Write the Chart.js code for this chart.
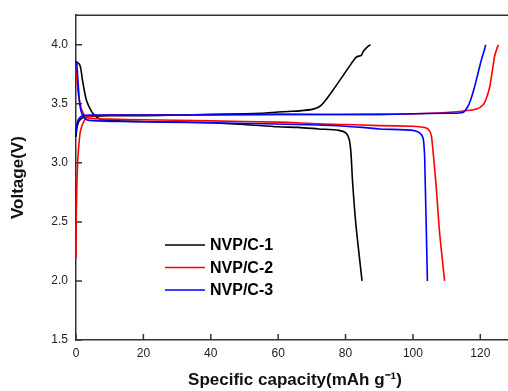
<!DOCTYPE html>
<html>
<head>
<meta charset="utf-8">
<script src="https://cdn.jsdelivr.net/npm/chart.js@4"></script>
<style>
  html, body { margin: 0; padding: 0; background: #fff; overflow: hidden; }
  #wrap { width: 508px; height: 391px; overflow: hidden; }
  canvas { display: block; }
</style>
</head>
<body>
<div id="wrap"><canvas id="chart" width="520" height="391"></canvas></div>
<script>
// series names + colours
const names = ['NVP/C-1', 'NVP/C-2', 'NVP/C-3'];
const colors = ['#000000', '#ff0000', '#0000ff'];

// NVP/C-1 (black)
const cap1Charge = [0, 0.3, 0.8, 1.8, 3, 5, 10, 20, 30, 40, 50, 55, 60, 63, 66.4, 70.4, 72.3, 73.8, 76.3, 79.3, 81.7, 83.2, 84.7, 85.2, 86.4, 87.4];
const volt1Charge = [3.22, 3.30, 3.35, 3.38, 3.39, 3.395, 3.40, 3.40, 3.405, 3.41, 3.415, 3.42, 3.43, 3.435, 3.44, 3.455, 3.477, 3.52, 3.617, 3.74, 3.84, 3.896, 3.91, 3.94, 3.98, 4.0];
const cap1Dis = [0, 1.0, 1.4, 2.1, 3.1, 4.6, 6.0, 8.0, 12, 20, 30, 40, 50, 60, 66, 72, 78, 80.1, 81.1, 81.6, 82.1, 83.1, 84.9];
const volt1Dis = [3.86, 3.835, 3.80, 3.67, 3.53, 3.435, 3.39, 3.365, 3.355, 3.35, 3.345, 3.34, 3.325, 3.305, 3.30, 3.287, 3.275, 3.253, 3.197, 3.086, 2.834, 2.47, 2.0];

// NVP/C-2 (red)
const cap2Charge = [0, 0.1, 0.4, 0.7, 1.2, 1.6, 2.5, 3.5, 5, 10, 30, 60, 90, 105, 113.9, 118.8, 120.8, 121.8, 122.8, 123.6, 124.2, 124.9, 125.4];
const volt2Charge = [2.19, 2.6, 2.95, 3.1, 3.25, 3.30, 3.36, 3.39, 3.40, 3.405, 3.405, 3.41, 3.41, 3.42, 3.435, 3.455, 3.49, 3.547, 3.644, 3.784, 3.896, 3.966, 4.0];
const cap2Dis = [0, 0.3, 0.7, 1.7, 3, 5, 10, 20, 40, 60, 72, 80, 90, 100, 102, 104, 105, 105.5, 105.9, 106.9, 107.9, 109.4];
const volt2Dis = [3.80, 3.70, 3.58, 3.45, 3.39, 3.375, 3.37, 3.365, 3.355, 3.345, 3.33, 3.325, 3.315, 3.31, 3.305, 3.295, 3.267, 3.225, 3.12, 2.805, 2.414, 2.0];

// NVP/C-3 (blue)
const cap3Charge = [0, 0.2, 0.6, 1.2, 2.2, 4, 10, 30, 60, 90, 100, 110, 114.8, 116.3, 117.3, 118.3, 119.3, 120.3, 121.3, 121.6];
const volt3Charge = [3.25, 3.32, 3.36, 3.385, 3.40, 3.405, 3.405, 3.405, 3.41, 3.41, 3.415, 3.42, 3.426, 3.477, 3.547, 3.644, 3.757, 3.868, 3.966, 4.0];
const cap3Dis = [0, 0.2, 0.7, 1.0, 1.4, 2.2, 3.2, 5, 13, 40, 72, 85, 90, 100, 102, 103, 103.3, 103.5, 104.3];
const volt3Dis = [3.855, 3.85, 3.645, 3.53, 3.45, 3.39, 3.365, 3.357, 3.35, 3.34, 3.32, 3.30, 3.287, 3.275, 3.253, 3.21, 3.14, 3.03, 2.0];

// axis ticks
const xTicks = { min: 0, max: 130, step: 20 };
const yTicks = { min: 1.5, max: 4.25, step: 0.5 };

const FONT = "'Liberation Sans', Arial, sans-serif";
Chart.defaults.font.family = FONT;

const pts = (xs, ys) => xs.map((x, i) => ({ x, y: ys[i] }));

const curves = [
    [0, cap1Charge, volt1Charge], [0, cap1Dis, volt1Dis],
    [1, cap2Charge, volt2Charge], [1, cap2Dis, volt2Dis],
    [2, cap3Charge, volt3Charge], [2, cap3Dis, volt3Dis]
];

const datasets = curves.map(([s, xs, ys]) => ({
    label: names[s],
    data: pts(xs, ys),
    borderColor: colors[s],
    borderWidth: 1.6,
    pointRadius: 0,
    tension: 0.25,
    clip: false,
    order: 3 - s   // blue on top, black underneath
}));

const frameAndLegend = {
    id: 'frameAndLegend',
    beforeDatasetsDraw(chart) {
        const { ctx, chartArea: a, scales: { x, y } } = chart;
        ctx.save();
        ctx.strokeStyle = '#333';
        ctx.lineWidth = 1.5;
        ctx.beginPath();
        x.ticks.forEach(t => { const px = x.getPixelForValue(t.value); ctx.moveTo(px, a.bottom); ctx.lineTo(px, a.bottom - 6); });
        y.ticks.forEach(t => { const py = y.getPixelForValue(t.value); ctx.moveTo(a.left, py); ctx.lineTo(a.left + 6, py); });
        ctx.moveTo(a.left, a.top); ctx.lineTo(a.right, a.top);
        ctx.stroke();
        ctx.restore();
    },
    afterDraw(chart) {
        const ctx = chart.ctx;
        ctx.save();
        ctx.font = 'bold 16px ' + FONT;
        ctx.textBaseline = 'middle';
        names.forEach((n, i) => {
            const yy = 245 + i * 22.5;
            ctx.strokeStyle = colors[i];
            ctx.lineWidth = 1.6;
            ctx.beginPath(); ctx.moveTo(165, yy); ctx.lineTo(205, yy); ctx.stroke();
            ctx.fillStyle = '#000';
            ctx.fillText(n, 210, yy + 1);
        });
        ctx.restore();
    }
};

new Chart(document.getElementById('chart'), {
    type: 'line',
    data: { datasets },
    plugins: [frameAndLegend],
    options: {
        responsive: false,
        animation: false,
        layout: { padding: { top: 15, right: 6, left: 0, bottom: 0 } },
        plugins: { legend: { display: false }, tooltip: { enabled: false } },
        scales: {
            x: {
                type: 'linear', min: xTicks.min, max: xTicks.max,
                ticks: { stepSize: xTicks.step, includeBounds: false, color: '#222', font: { size: 12 }, padding: 6, maxRotation: 0 },
                grid: { display: false, drawTicks: false },
                border: { color: '#333', width: 1.5 },
                title: { display: true, text: 'Specific capacity(mAh g\u207B\u00B9)', color: '#111', font: { size: 17, weight: 'bold' }, padding: { top: 4, bottom: 0 } },
                afterFit: s => { s.height = 51; }
            },
            y: {
                type: 'linear', min: yTicks.min, max: yTicks.max,
                ticks: { stepSize: yTicks.step, includeBounds: false, color: '#222', font: { size: 12 }, padding: 8, callback: v => v.toFixed(1) },
                grid: { display: false, drawTicks: false },
                border: { color: '#333', width: 1.5 },
                title: { display: true, text: 'Voltage(V)', color: '#111', font: { size: 17, weight: 'bold' }, padding: { top: 8, bottom: 0 } },
                afterFit: s => { s.width = 76; }
            }
        }
    }
});
</script>
</body>
</html>
